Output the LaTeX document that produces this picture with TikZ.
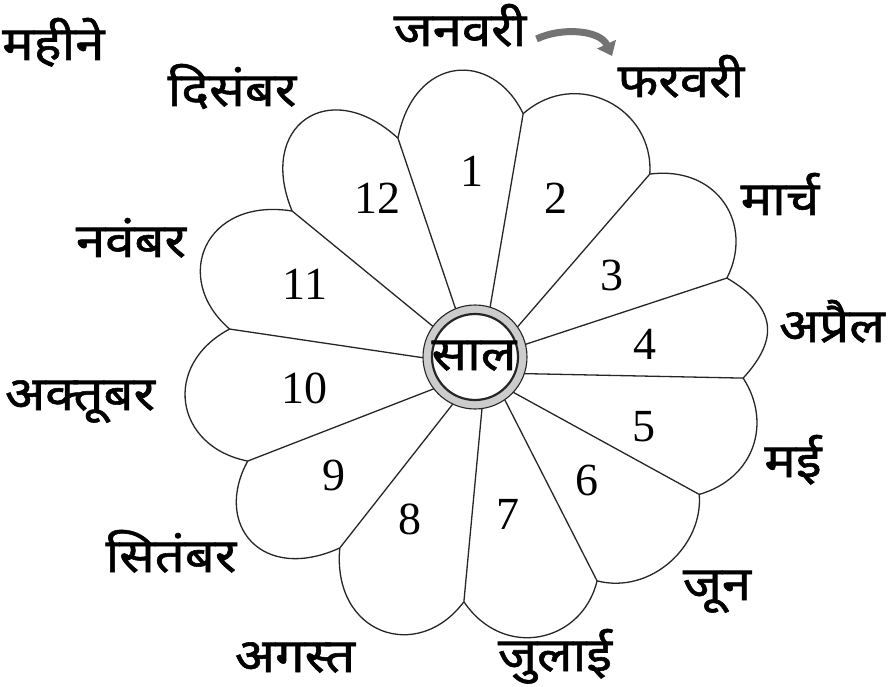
\documentclass[tikz,border=0pt]{standalone}
\usepackage{fontspec}
\newfontfamily\dev[Script=Devanagari, FakeStretch=1.12, FakeBold=1.2]{Noto Sans}
\newfontfamily\numf{Liberation Serif}
\usetikzlibrary{arrows.meta}
\begin{document}
\begin{tikzpicture}[x=1pt,y=-1pt,
  petal/.style={draw=black!85,line width=1.3pt},
  month/.style={font=\dev\fontsize{47}{47}\selectfont, anchor=base, inner sep=0pt},
  num/.style={font=\numf\fontsize{46}{46}\selectfont, inner sep=0pt},
]
\fill[white] (0,0) rectangle (889,687);
\useasboundingbox (0,0) rectangle (889,687);
\begin{scope}[shift={(475,357)}, yscale=-1]
  \foreach \aa/\ra/\ab/\rb/\Ro in {109.4/232/78.8/248/287, 78.8/248/46.3/253/288, 46.3/253/17.4/264/293, 17.4/264/-4.5/269/294, -4.5/269/-31.5/263/292, -31.5/263/-61.4/255/283, -61.4/255/-92.6/245/287, -92.6/245/-125.3/234/289, -125.3/234/-155.4/250/290, -155.4/250/-186.5/247/293, 173.5/247/141.4/234/291, 141.4/234/109.4/232/292}
  {
    \pgfmathsetmacro\hh{(\aa-\ab)/2}
    \pgfmathsetmacro\Rc{(8*\Ro-(\ra+\rb)*cos(\hh))/(6*cos(\hh-8))}
    \draw[petal] (\aa:\ra) .. controls (\aa-8:\Rc) and (\ab+8:\Rc) .. (\ab:\rb);
  }
  \foreach \s/\a/\r in {112/109.4/232, 73/78.8/248, 35/46.3/253, 14/17.4/264, -19/-4.5/269, -43/-31.5/263, -55/-61.4/255, -82/-92.6/245, -115/-125.3/234, -142/-155.4/250, 181/173.5/247, 144/141.4/234}
    \draw[petal] (\s:51) -- (\a:\r);
  \fill[white] (0,0) circle (52);
  \fill[gray!40, even odd rule] (0,0) circle (52) (0,0) circle (43);
  \draw[line width=1.1pt, black!85] (0,0) circle (52);
  \draw[line width=2.2pt, black!85] (0,0) circle (43);
\end{scope}
\node[month] (saal) at (474,370) {साल};
% numbers
\node[num] (n1) at (472,171) {1};
\node[num] (n2) at (556,198) {2};
\node[num] (n3) at (612,275) {3};
\node[num] (n4) at (645,344) {4};
\node[num] (n5) at (644,427) {5};
\node[num] (n6) at (587,480) {6};
\node[num] (n7) at (508,514) {7};
\node[num] (n8) at (410,519) {8};
\node[num] (n9) at (334,475) {9};
\node[num] (n10) at (304,388) {10};
\node[num] (n11) at (305,284) {11};
\node[num] (n12) at (377,198) {12};
% month labels
\node[month, anchor=base west] (mahine) at (2,60) {महीने};
\node[month] (jan) at (460,46) {जनवरी};
\node[month] (feb) at (681,97) {फरवरी};
\node[month] (mar) at (780,215) {मार्च};
\node[month] (apr) at (832,342) {अप्रैल};
\node[month] (may) at (793,477) {मई};
\node[month] (jun) at (717,600) {जून};
\node[month] (jul) at (555,671) {जुलाई};
\node[month] (aug) at (295,672) {अगस्त};
\node[month] (sep) at (171,572) {सितंबर};
\node[month] (oct) at (80,410) {अक्तूबर};
\node[month] (nov) at (131,257) {नवंबर};
\node[month] (dec) at (232,106) {दिसंबर};
\coordinate (febtip) at (612,56);
\draw[line width=7pt, black!55, -{Triangle[length=13pt,width=20pt]}]
  ([shift={(10,-7)}]jan.base east) .. controls +(25,-12) and +(-12,-26) .. (febtip);
\end{tikzpicture}
\end{document}
